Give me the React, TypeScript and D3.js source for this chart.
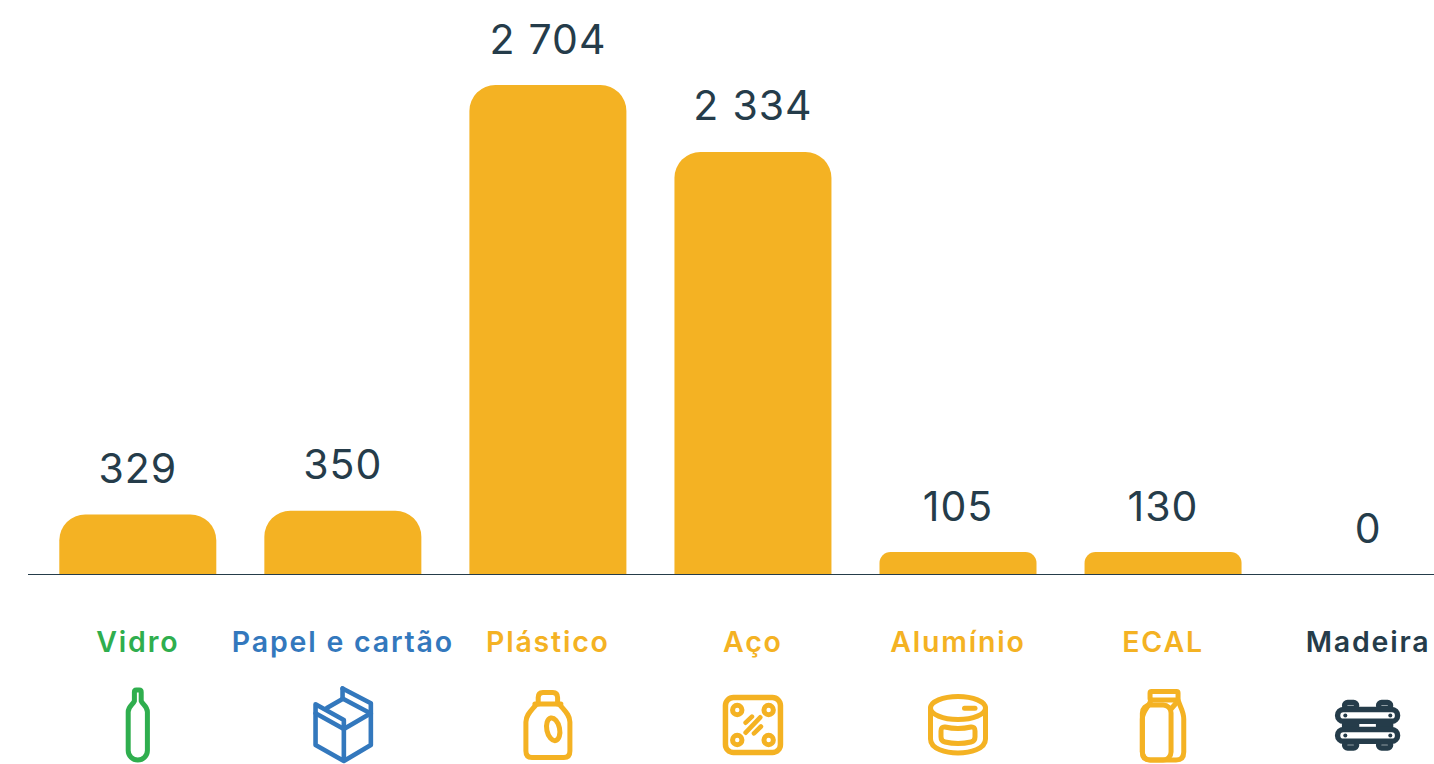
import React from "react";
import * as d3 from "d3";

const categories = ["Vidro", "Papel e cartão", "Plástico", "Aço", "Alumínio", "ECAL", "Madeira"];
const values = [329, 350, 2704, 2334, 105, 130, 0];
const valueLabels = ["329", "350", "2 704", "2 334", "105", "130", "0"];
const AMBER = "#F4B223";
const GREEN = "#2FAE4E";
const BLUE = "#3378BD";
const DARK = "#253C4A";
const labelColors = [GREEN, BLUE, AMBER, AMBER, AMBER, AMBER, DARK];
const iconOffsets = [0, 1, 0, 0, 0, 0, -0.5];

const W = 1434;
const H = 764;
const BASE = 574;

const x = d3.scaleBand<string>().domain(categories).range([35.275, 35.275 + 205.05 * 7]);
const y = d3.scaleLinear().domain([0, 2704]).range([BASE, 85]);
const BAR_W = 157;
const MIN_H = 22;

function barHeight(v: number) {
  if (v === 0) return 0;
  const h = BASE - y(v);
  return h < 25 ? MIN_H : h;
}

function barPath(cx: number, h: number) {
  const l = cx - BAR_W / 2;
  const r = Math.min(26, h / 2);
  const p = d3.path();
  p.moveTo(l, BASE);
  p.lineTo(l, BASE - h + r);
  p.arcTo(l, BASE - h, l + r, BASE - h, r);
  p.lineTo(l + BAR_W - r, BASE - h);
  p.arcTo(l + BAR_W, BASE - h, l + BAR_W, BASE - h + r, r);
  p.lineTo(l + BAR_W, BASE);
  p.closePath();
  return p.toString();
}

const Bottle = () => (
  <path d="M-3.4,701 C-5,705 -9.6,706 -9.6,712 V750.5 A9.6,9.6 0 0 0 9.6,750.5 V712 C9.6,706 5,705 3.4,701 V692 Q3.4,690 1.5,690 H-1.5 Q-3.4,690 -3.4,692 Z" transform="translate(0,-725)" strokeWidth={5} />
);

const Box = () => (
  <g strokeWidth={4.6}>
    <path d="M-1.3,-36.5 L27,-21.7 V20 L0,36 L-28.3,20 V-20.7 L0,-5 V36" />
    <path d="M-28.3,-11.7 L0,4 L27,-11.7" />
    <path d="M-1.3,-36.5 V-26 L-17,-17" />
    <path d="M-1.3,-26.5 L26,-12" />
  </g>
);

const Jug = () => (
  <g strokeWidth={5}>
    <path d="M-9.7,-21 V-27.5 Q-9.7,-32.5 -5,-32.5 H5 Q9.7,-32.5 9.7,-27.5 V-21" />
    <path d="M-13,-21 H13" />
    <path d="M-12,-20 C-17,-14 -22,-10 -22,-3 V26 Q-22,32.5 -16,32.5 H16 Q22,32.5 22,26 V-3 C22,-10 17,-14 12,-20" />
    <ellipse cx={5.3} cy={4.3} rx={6.4} ry={11.5} transform="rotate(-12 5.3 4.3)" />
  </g>
);

const Plate = () => (
  <g strokeWidth={5.5}>
    <rect x={-27.5} y={-27.5} width={55} height={55} rx={8} />
    {[[-15.7, -15], [15.7, -15], [-15.7, 15], [15.7, 15]].map(([a, b], i) => (
      <circle key={i} cx={a} cy={b} r={4.7} strokeWidth={5} />
    ))}
    <path d="M-7.3,-2.3 L-1,-8.3 M-7.3,7.7 L7.3,-7.7 M1,8.3 L8,1.5" strokeWidth={4.6} />
  </g>
);

const Can = () => (
  <g strokeWidth={5}>
    <ellipse cx={0} cy={-17} rx={27.5} ry={11.5} />
    <path d="M-27.5,-17 V14 C-27.5,24 -12,28 0,28 C12,28 27.5,24 27.5,14 V-17" />
    <path d="M6.5,-16.7 H17" />
    <path d="M-17,6 Q-17,1.5 -13,2 Q0,5 13,2 Q17,1.5 17,6 V12 Q17,16 13,17 Q0,20 -13,17 Q-17,16 -17,12 Z" />
  </g>
);

const Carton = () => (
  <g strokeWidth={5}>
    <rect x={-13} y={-33.5} width={28} height={8.5} rx={1.5} />
    <path d="M-12,-25 C-14,-18 -20.7,-14 -20.7,-6 V27 Q-20.7,35 -13,35 H13 Q20.7,35 20.7,27 V-6 C20.7,-14 17,-18 15,-25" />
    <rect x={-20.7} y={-20} width={28.7} height={55} rx={8} />
    <path d="M8,-16 L14,-23" />
  </g>
);

const Wood = () => (
  <g strokeWidth={5.4}>
    {[-23, -23, 11, 11].map((a, i) => (
      <rect key={i} x={a} y={i % 2 ? 17 : -22.5} width={12} height={6} rx={3} />
    ))}
    {[-23, 11].map((a, i) => (
      <rect key={i} x={a} y={-1} width={12} height={2} />
    ))}
    <rect x={-30} y={-15.5} width={60} height={11.8} rx={5.9} fill="#fff" />
    <rect x={-30} y={4.5} width={60} height={11.8} rx={5.9} fill="#fff" />
    {[[-22.3, -9.6], [22.7, -9.6], [-22.3, 10.4], [22.7, 10.4]].map(([a, b], i) => (
      <circle key={i} cx={a} cy={b} r={2} fill={DARK} stroke="none" />
    ))}
  </g>
);

const icons = [Bottle, Box, Jug, Plate, Can, Carton, Wood];

export default function App() {
  return (
    <svg
      width={W}
      height={H}
      viewBox={`0 0 ${W} ${H}`}
      style={{ position: "absolute", left: 0, top: 0, background: "#fff" }}
    >
      {categories.map((c, i) => {
        const cx = (x(c) as number) + x.bandwidth() / 2;
        const h = barHeight(values[i]);
        const Icon = icons[i];
        return (
          <g key={c}>
            {h > 0 && <path d={barPath(cx, h)} fill={AMBER} />}
            <text
              x={cx}
              y={BASE - h - 31.5}
              textAnchor="middle"
              fontFamily="Inter, sans-serif"
              fontWeight={400}
              fontSize={41}
              letterSpacing={1}
              wordSpacing={0.5}
              fill={DARK}
            >
              {valueLabels[i]}
            </text>
            <text
              x={cx}
              y={652}
              textAnchor="middle"
              fontFamily="Inter, sans-serif"
              fontWeight={600}
              fontSize={28.5}
              letterSpacing={1.8}
              fill={labelColors[i]}
            >
              {c}
            </text>
            <g
              transform={`translate(${cx + iconOffsets[i]},725)`}
              fill="none"
              stroke={labelColors[i]}
              strokeLinecap="round"
              strokeLinejoin="round"
            >
              <Icon />
            </g>
          </g>
        );
      })}
      <line x1={28} x2={W} y1={574.5} y2={574.5} stroke={DARK} strokeWidth={1} />
    </svg>
  );
}
